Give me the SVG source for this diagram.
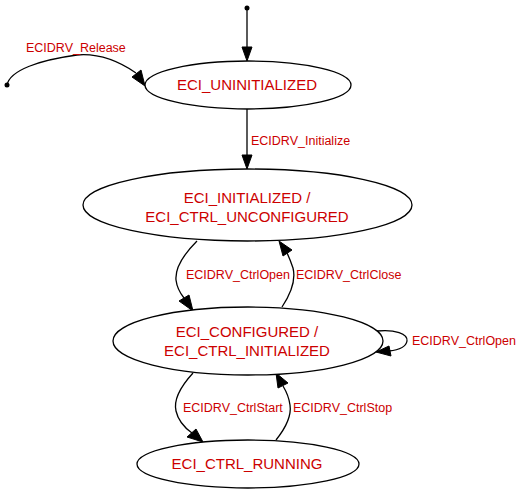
<svg xmlns="http://www.w3.org/2000/svg" width="527" height="493" viewBox="0 0 527 493">
<style>
.node ellipse{fill:#fff;stroke:#000;stroke-width:1.3}
.nl{font-family:"Liberation Sans",Arial,sans-serif;font-size:15px;fill:#cc0000;text-anchor:middle}
.el{font-family:"Liberation Sans",Arial,sans-serif;font-size:12.5px;fill:#cc0000}
.edge path{fill:none;stroke:#000;stroke-width:1.3}
.edge polygon{fill:#000;stroke:#000;stroke-width:1}
</style>
<rect width="527" height="493" fill="#fff"/>
<g id="edges">
<g class="edge" id="e_start_top">
<path d="M247,8 L247,47"/>
<polygon points="242,47 247,61 252,47"/>
</g>
<g class="edge" id="e_release">
<path d="M7,85 C10,70 40,60 77,55 C100,53 120,62 136,73"/>
<polygon points="132,77 145,86 141,70"/>
<text class="el" x="26" y="52">ECIDRV_Release</text>
</g>
<g class="edge" id="e_init">
<path d="M247,109 L247,155"/>
<polygon points="242,155 247,169 252,155"/>
<text class="el" x="251" y="145">ECIDRV_Initialize</text>
</g>
<g class="edge" id="e_open">
<path d="M197,241 C185,253 175,268 176,280 C177,288 180,293 184,298"/>
<polygon points="179,301 193,311 189,295"/>
<text class="el" x="186" y="279">ECIDRV_CtrlOpen</text>
</g>
<g class="edge" id="e_close">
<path d="M282,307 C290,295 296,280 293,268 C291,262 289,257 287,253"/>
<polygon points="292,250 279,241 283,256"/>
<text class="el" x="296" y="279">ECIDRV_CtrlClose</text>
</g>
<g class="edge" id="e_self">
<path d="M377,331 C395,329 408,334 407,341 C406,347 398,350 389,351"/>
<polygon points="389,346 376,352 391,356"/>
<text class="el" x="412" y="345">ECIDRV_CtrlOpen</text>
</g>
<g class="edge" id="e_start">
<path d="M193,373 C182,385 173,398 176,411 C178,420 185,428 192,433"/>
<polygon points="187,437 203,442 196,429"/>
<text class="el" x="183" y="412">ECIDRV_CtrlStart</text>
</g>
<g class="edge" id="e_stop">
<path d="M276,440 C284,430 292,418 290,405 C289,397 286,391 283,386"/>
<polygon points="288,383 276,373 278,388"/>
<text class="el" x="293" y="412">ECIDRV_CtrlStop</text>
</g>
</g>
<g id="start_top"><circle cx="247" cy="8" r="2.5" fill="#000"/></g>
<g id="start_left"><circle cx="7" cy="85" r="2.5" fill="#000"/></g>
<g class="node" id="n_uninit">
<ellipse cx="248" cy="85" rx="103" ry="24"/>
<text class="nl" x="247" y="90">ECI_UNINITIALIZED</text>
</g>
<g class="node" id="n_init">
<ellipse cx="247.5" cy="205" rx="164.5" ry="36"/>
<text class="nl" x="247" y="203">ECI_INITIALIZED /</text>
<text class="nl" x="247" y="222">ECI_CTRL_UNCONFIGURED</text>
</g>
<g class="node" id="n_conf">
<ellipse cx="248" cy="341" rx="135" ry="34"/>
<text class="nl" x="247" y="337">ECI_CONFIGURED /</text>
<text class="nl" x="247" y="356">ECI_CTRL_INITIALIZED</text>
</g>
<g class="node" id="n_run">
<ellipse cx="248" cy="464" rx="111" ry="24"/>
<text class="nl" x="247" y="469">ECI_CTRL_RUNNING</text>
</g>
</svg>
